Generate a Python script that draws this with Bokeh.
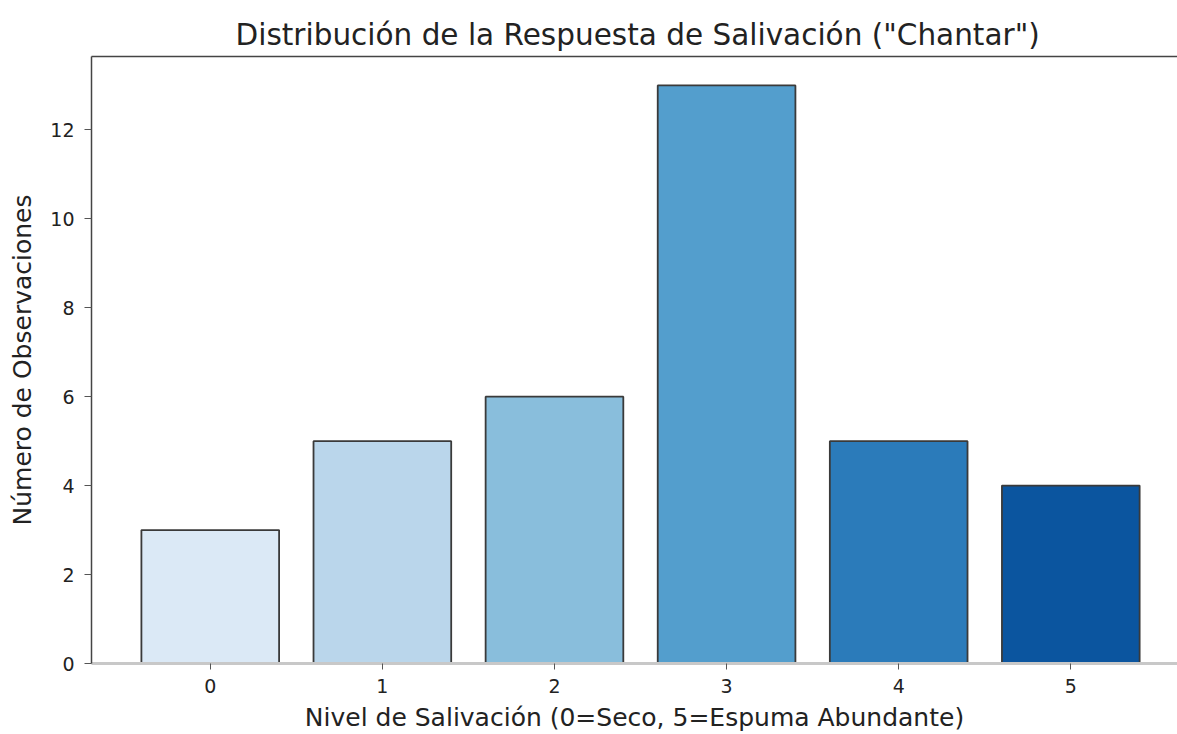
from bokeh.plotting import figure
from bokeh.models import FixedTicker, LinearAxis, Range1d, ColumnDataSource
from bokeh.embed import file_html
from bokeh.resources import INLINE

levels = [0, 1, 2, 3, 4, 5]
counts = [3, 5, 6, 13, 5, 4]
colors = ["#dbe9f6", "#bad6eb", "#89bedc", "#539ecd", "#2b7bba", "#0b559f"]
y_ticks = [0, 2, 4, 6, 8, 10, 12]
title = 'Distribución de la Respuesta de Salivación ("Chantar")'
xlabel = "Nivel de Salivación (0=Seco, 5=Espuma Abundante)"
ylabel = "Número de Observaciones"

FONT = "DejaVu Sans"

p = figure(width=1177, height=734, output_backend="svg", toolbar_location=None,
           x_range=Range1d(-0.69, 5.62), y_range=Range1d(0, 13.65),
           min_border_left=91, min_border_right=0, min_border_top=56, min_border_bottom=71)

p.title.text = title
p.title.text_font = FONT
p.title.text_font_size = "29.5px"
p.title.text_font_style = "normal"
p.title.text_color = "#222222"
p.title.align = "left"
p.title.offset = 144

src = ColumnDataSource(dict(x=levels, top=counts, color=colors))
p.vbar(x="x", top="top", width=0.8, bottom=0, fill_color="color", line_color="#3a3a3a",
       line_width=1.8, source=src)

p.grid.visible = False
p.outline_line_color = None
p.background_fill_color = "white"

# x axis
xa = p.xaxis[0]
xa.ticker = FixedTicker(ticks=levels)
xa.axis_label = xlabel
xa.axis_line_color = "#c8c8c8"
xa.axis_line_width = 3
xa.major_tick_line_color = "#555555"
xa.major_tick_in = 0
xa.major_tick_out = 6
xa.minor_tick_line_color = None
xa.major_label_text_font = FONT
xa.major_label_text_font_size = "19px"
xa.major_label_text_color = "#222222"
xa.major_label_standoff = 9
xa.axis_label_text_font = FONT
xa.axis_label_text_font_size = "25px"
xa.axis_label_text_font_style = "normal"
xa.axis_label_text_color = "#222222"
xa.axis_label_standoff = 7

# y axis
ya = p.yaxis[0]
ya.ticker = FixedTicker(ticks=y_ticks)
ya.axis_label = ylabel
ya.axis_line_color = "#444444"
ya.axis_line_width = 1.5
ya.major_tick_line_color = "#555555"
ya.major_tick_in = 0
ya.major_tick_out = 7
ya.minor_tick_line_color = None
ya.major_label_text_font = FONT
ya.major_label_text_font_size = "19px"
ya.major_label_text_color = "#222222"
ya.major_label_standoff = 10
ya.axis_label_text_font = FONT
ya.axis_label_text_font_size = "25px"
ya.axis_label_text_font_style = "normal"
ya.axis_label_text_color = "#222222"
ya.axis_label_standoff = 10

# top spine
top = LinearAxis(ticker=FixedTicker(ticks=[]), axis_line_color="#444444", axis_line_width=1.5,
                 major_tick_line_color=None, minor_tick_line_color=None,
                 major_label_text_font_size="0px")
p.add_layout(top, "above")

open("out.html", "w").write(file_html(p, INLINE))
